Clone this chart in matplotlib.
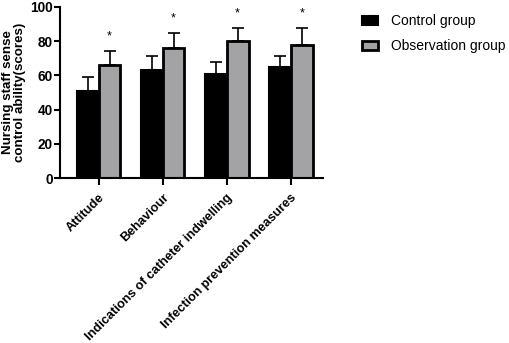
import numpy as np
import matplotlib.pyplot as plt

plt.rcParams['font.family'] = ['Liberation Sans', 'DejaVu Sans']

categories = ["Attitude", "Behaviour", "Indications of catheter indwelling", "Infection prevention measures"]
control_mean = [51, 63, 61, 65]
control_err = [8, 8, 7, 6]
obs_mean = [66, 76, 80, 78]
obs_err = [8, 9, 7.5, 9.5]
marks = ["*", "*", "*", "*"]

fig = plt.figure(figsize=(5.1, 3.43), dpi=100)
ax = fig.add_axes([0.118, 0.481, 0.515, 0.499])

x = np.arange(len(categories))
w = 0.34
ax.bar(x - w / 2, control_mean, w, color="black", edgecolor="black", linewidth=1.5,
       label="Control group", zorder=2)
ax.bar(x + w / 2, obs_mean, w, color="#a3a3a6", edgecolor="black", linewidth=2,
       label="Observation group", zorder=2)
ax.errorbar(x - w / 2, control_mean, yerr=[np.zeros(4), control_err], fmt="none",
            ecolor="black", elinewidth=1.2, capsize=4, capthick=1.2, zorder=1)
ax.errorbar(x + w / 2, obs_mean, yerr=[np.zeros(4), obs_err], fmt="none",
            ecolor="black", elinewidth=1.2, capsize=4, capthick=1.2, zorder=1)
# significance stars above the observation bars
for xi, m, e, s in zip(x, obs_mean, obs_err, marks):
    ax.text(xi + w / 2, m + e + 5, s, ha="center", va="bottom", fontsize=9)

ax.set_xlim(-0.6, 3.5)
ax.set_ylim(0, 100)
ax.set_yticks([0, 20, 40, 60, 80, 100])
ax.set_xticks(x)
ax.set_xticklabels(categories, rotation=45, ha="right", rotation_mode="anchor",
                   fontsize=9.2, fontweight="bold")
for lbl in ax.get_yticklabels():
    lbl.set_fontweight("bold")
    lbl.set_fontsize(9.8)
ax.spines["top"].set_visible(False)
ax.spines["right"].set_visible(False)
ax.spines["left"].set_linewidth(1.5)
ax.spines["bottom"].set_linewidth(1.5)
ax.tick_params(axis="y", width=1.5, length=4, pad=1.5)
ax.tick_params(axis="x", width=1.5, length=5, pad=5)
ax.set_ylabel("Nursing staff sense\ncontrol ability(scores)", fontsize=9.6,
              fontweight="bold", labelpad=3, linespacing=1.0)

ax.legend(loc="upper left", bbox_to_anchor=(1.1, 1.03), frameon=False, fontsize=10,
          handlelength=1.2, handleheight=0.7, handletextpad=0.9, labelspacing=0.8)

fig.savefig("out.png", dpi=100)
